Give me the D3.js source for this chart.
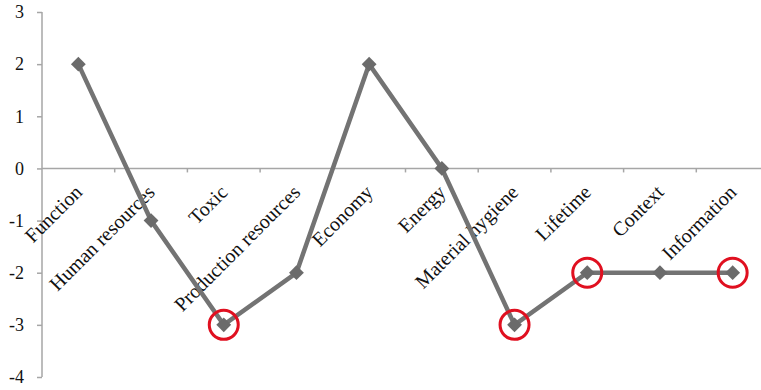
<!DOCTYPE html>
<html>
<head>
<meta charset="utf-8">
<script src="https://cdn.jsdelivr.net/npm/d3@7"></script>
<style>
  body { margin: 0; background: #fff; }
  text { font-family: "Liberation Serif", "Times New Roman", serif; }
</style>
</head>
<body>
<div id="chart"></div>
<script>
const categories = ["Function", "Human resources", "Toxic", "Production resources", "Economy",
  "Energy", "Material hygiene", "Lifetime", "Context", "Information"];
const values = [2, -1, -3, -2, 2, 0, -3, -2, -2, -2];
const highlighted = ["Toxic", "Material hygiene", "Lifetime", "Information"];
const yTicks = [-4, -3, -2, -1, 0, 1, 2, 3];

const width = 761, height = 390;
const margin = {top: 12, right: -8, bottom: 13, left: 42};

const svg = d3.select("#chart").append("svg")
  .attr("width", width)
  .attr("height", height);

const x = d3.scaleBand()
  .domain(categories)
  .range([margin.left, width - margin.right]);

const y = d3.scaleLinear()
  .domain([-4, 3])
  .range([height - margin.bottom, margin.top]);

const axisColor = "#a6a6a6";

// y axis
const yAxis = svg.append("g")
  .attr("transform", "translate(" + margin.left + ",0)")
  .call(d3.axisLeft(y).tickValues(yTicks).tickSize(5).tickPadding(13).tickFormat(d3.format("d")));
yAxis.select(".domain").attr("stroke", axisColor).attr("stroke-width", 1.5)
  .attr("d", "M0," + y(-4) + "V" + y(3));
yAxis.selectAll(".tick line").attr("stroke", axisColor).attr("stroke-width", 1.5);
yAxis.selectAll(".tick text")
  .attr("font-size", 18)
  .attr("fill", "#111")
  .text(d => d < 0 ? "-" + Math.abs(d) : d);

// zero line with ticks between categories
const zero = svg.append("g");
zero.append("line")
  .attr("x1", margin.left).attr("x2", width)
  .attr("y1", y(0)).attr("y2", y(0))
  .attr("stroke", axisColor).attr("stroke-width", 1.5);
zero.selectAll("line.tk")
  .data(categories.slice(1).concat(["__end"]))
  .join("line")
  .attr("class", "tk")
  .attr("x1", (d, i) => x(categories[0]) + (i + 1) * x.step())
  .attr("x2", (d, i) => x(categories[0]) + (i + 1) * x.step())
  .attr("y1", y(0)).attr("y2", y(0) + 4)
  .attr("stroke", axisColor).attr("stroke-width", 1.5);

// category labels
svg.append("g").selectAll("text")
  .data(categories)
  .join("text")
  .attr("transform", d => "translate(" + (x(d) + x.bandwidth() / 2 + 5) + "," + (y(0) + 25) + ")rotate(-45)")
  .attr("text-anchor", "end")
  .attr("font-size", 20)
  .attr("fill", "#111")
  .text(d => d);

const pts = categories.map((c, i) => ({c: c, v: values[i]}));
const cx = d => x(d.c) + x.bandwidth() / 2;

// line
svg.append("path")
  .datum(pts)
  .attr("fill", "none")
  .attr("stroke", "#737373")
  .attr("stroke-width", 4.5)
  .attr("d", d3.line().x(cx).y(d => y(d.v)));

// diamond markers
svg.append("g").selectAll("path")
  .data(pts)
  .join("path")
  .attr("transform", d => "translate(" + cx(d) + "," + y(d.v) + ")")
  .attr("d", d3.symbol(d3.symbolDiamond2, 140)())
  .attr("fill", "#6b6b6b");

// red highlight circles
svg.append("g").selectAll("circle")
  .data(pts.filter(d => highlighted.includes(d.c)))
  .join("circle")
  .attr("cx", cx)
  .attr("cy", d => y(d.v))
  .attr("r", 14.5)
  .attr("fill", "none")
  .attr("stroke", "#e01020")
  .attr("stroke-width", 3);
</script>
</body>
</html>
